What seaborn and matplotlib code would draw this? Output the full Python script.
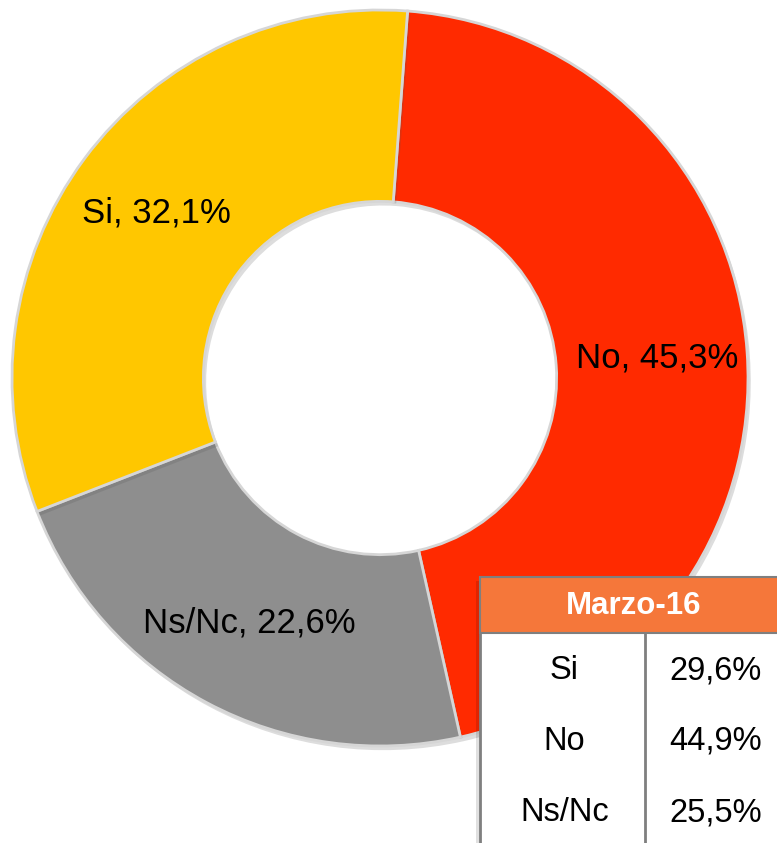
import matplotlib
matplotlib.use("Agg")
import matplotlib.pyplot as plt
import matplotlib.patheffects as pe
from matplotlib.patches import Rectangle
import seaborn as sns

# Donut values (current survey)
categories = ["No", "Ns/Nc", "Si"]
shares = [45.3, 22.6, 32.1]
colors = ["#FF2A00", "#8E8E8E", "#FFC700"]

# Comparison table (previous survey)
table_title = "Marzo-16"
table_labels = ["Si", "No", "Ns/Nc"]
table_values = [29.6, 44.9, 25.5]

sns.set_theme(style="white")
plt.rcParams["font.family"] = ["Liberation Sans", "DejaVu Sans"]


def fmt(v):
    return f"{v:.1f}".replace(".", ",") + "%"


W, H = 777, 843
fig = plt.figure(figsize=(W / 100, H / 100), dpi=100)
fig.patch.set_facecolor("white")

# Donut axes: centre at (380, 378) px, radius 368 px
cx, cy, r = 380, 378, 368
ax = fig.add_axes([(cx - r) / W, (H - cy - r) / H, 2 * r / W, 2 * r / H])
wedges, texts = ax.pie(
    shares,
    colors=colors,
    startangle=85.7,
    counterclock=False,
    radius=1.0,
    labels=[f"{c}, {fmt(v)}" for c, v in zip(categories, shares)],
    labeldistance=0.755,
    wedgeprops=dict(width=0.52, edgecolor="#D6D6D6", linewidth=2),
    textprops=dict(fontsize=25, color="black", ha="center", va="center"),
)
for w in wedges:
    w.set_path_effects([pe.SimplePatchShadow(offset=(2, -3), alpha=0.2, shadow_rgbFace="#555555"), pe.Normal()])
for t in texts:
    t.set_horizontalalignment("center")
    t.set_verticalalignment("center")
ax.set_xlim(-1, 1)
ax.set_ylim(-1, 1)
ax.set_aspect("auto")
ax.axis("off")

# Overlay axes in pixel units for the table
ov = fig.add_axes([0, 0, 1, 1], zorder=5)
ov.set_xlim(0, W)
ov.set_ylim(H, 0)
ov.axis("off")

x0, x1, xd = 480, 790, 645
y0, yh, y1 = 577, 633, 850
row_h = 71

shadow = Rectangle((x0 - 4, y0 + 4), x1 - x0, y1 - y0, facecolor="#000000", alpha=0.12, edgecolor="none")
ov.add_patch(shadow)
ov.add_patch(Rectangle((x0, y0), x1 - x0, y1 - y0, facecolor="white", edgecolor="#7F7F7F", linewidth=2))
ov.add_patch(Rectangle((x0, y0), x1 - x0, yh - y0, facecolor="#F5773A", edgecolor="#7F7F7F", linewidth=1.5))
ov.plot([xd, xd], [yh, y1], color="#7F7F7F", linewidth=2)
ov.text((x0 + x1) / 2 - 1, (y0 + yh) / 2 + 1, table_title, color="white", fontsize=22.5, fontweight="bold",
        ha="center", va="center")
for i, (lab, val) in enumerate(zip(table_labels, table_values)):
    yc = yh + row_h * (i + 0.5) + 2
    ov.text((x0 + xd) / 2 + 2, yc, lab, fontsize=23.5, ha="center", va="center", color="black")
    ov.text((xd + x1) / 2 - 2, yc, fmt(val), fontsize=23.5, ha="center", va="center", color="black")

fig.savefig("out.png", dpi=100, facecolor="white")
